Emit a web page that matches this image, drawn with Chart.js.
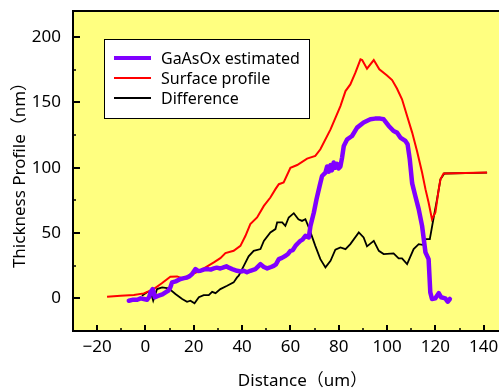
<!DOCTYPE html>
<html><head><meta charset="utf-8">
<script src="https://cdn.jsdelivr.net/npm/chart.js@4/dist/chart.umd.min.js"></script>
<style>
html,body{margin:0;padding:0;background:#fff;overflow:hidden;}
#wrap{position:relative;width:535px;height:390px;}
</style></head><body>
<div id="wrap"><canvas id="c" width="535" height="390"></canvas></div>
<script>
// ---- data ----
const xTicks = [-20, 0, 20, 40, 60, 80, 100, 120, 140];
const xMinorTicks = [-30, -10, 10, 30, 50, 70, 90, 110, 130, 150];
const yTicks = [0, 50, 100, 150, 200];
const yMinorTicks = [-25, 25, 75, 125, 175];

const seriesLabels = ['GaAsOx estimated', 'Surface profile', 'Difference'];

const estDistance = [-6.9,-5,-3.4,-2,-0.7,0.7,1.5,2.1,3,3.9,4.7,5.5,7,8.3,9.5,10.3,11,12.5,14.5,16,17.2,18.3,19.3,20.7,21.7,22.8,24,25.5,27,28.3,29.5,31,32,33.5,34.5,35.9,37.9,39.5,40.7,42,43.4,45.5,47.6,49,50.4,52,53.1,54,55.2,56.5,58,59,60,61,62.1,63,64.1,65,66.2,67.6,68.3,69.7,70.8,72.1,73.1,74.5,75.2,75.9,76.6,77.2,77.9,78.6,79.3,80,80.7,81.4,82.1,83.5,85.5,87.6,90.3,93.1,95,97.2,98.6,100.7,102.7,104.1,105.5,107.6,108.5,109.4,110.4,111.7,113.1,114.5,115.9,117.2,117.9,118.6,120,121.4,122.4,124.1,125.1,126];
const estThickness = [-1.8,-1,-1.1,0,-0.5,-1.1,1,4.6,7.1,0.8,1.5,2,3,4.6,6,8.4,12.2,13,14.8,15.5,16,17,18.6,22.4,21,21.1,22,22.4,22,22.9,23.5,22.9,23.5,24.5,23.5,22.4,21.1,20.5,21.1,20,21.1,22.4,26.2,24,22.9,24,24.9,26,30,31,32.6,34,36.4,37,40.2,42,44,45,47.9,46.6,55.5,65.7,75.9,86.1,93.7,96.3,101,97,102,98,104,100,103,99.5,101,108,116.7,121.8,124.3,130.7,134.6,137.1,137.6,137.6,137.1,132,128.1,126.9,123.1,120.5,118,106.5,88,78.4,68.3,55.5,35.2,30,4.6,-0.5,0,4,0.8,0,-2.6,-0.5];

const surfDistance = [-15.9,-10.3,-4.8,-0.7,3.4,6.9,10.3,13.1,15.2,18,22.8,28.3,31,33.1,36.5,39.3,41.4,43.4,46.2,49,51.7,53.8,55.2,57.2,60,62.8,66.9,70.3,72.4,76.6,80.7,82.8,84.8,86.9,89,89.7,91.7,94.5,96.8,100,102.1,104.1,106.2,108.3,110.4,112.4,114.5,115.9,117.2,118.6,120,121.4,122.1,123.4,141.4];
const surfThickness = [1.2,2,2.5,3.8,7.1,11.7,16.5,16.8,15.3,17.3,21.4,27.5,30.8,34.6,36.4,40.2,47.9,56.8,61.9,70.8,77.2,83.6,87.4,88.7,99.9,102.1,107,109,114.1,129.4,147.2,158.7,163.8,172.8,183,182.4,175.8,182.4,175.3,170.7,167.1,160.6,152.4,139.6,126.9,112.8,96.3,83.6,73.4,60.6,65.7,83.6,91.2,95.6,96.3];

const diffDistance = [-1.5,0.5,2.1,3.2,4.8,6.9,9.6,12.4,15.2,17.2,18.6,20.3,22.1,24.1,26.2,27.6,29,31,33.8,36.5,37.9,38.6,40.7,42.7,44.8,47.6,49,51.7,53.8,54.5,56.6,57.9,59.3,61.4,63.3,64.8,66.2,67.6,70.3,72.4,74.5,76.6,78.6,80.7,82.8,84.8,88.3,90.3,91.7,94.5,96.6,98.6,102.7,104.8,106.2,108.3,111,113.1,115.2,115.9,117.7,119.3,120.7,122.1,123.7,141.4];
const diffThickness = [2,4.5,5.5,-1.8,7.1,8.4,7.6,3.3,-0.5,-2.6,-1.8,-3.8,0.8,2.5,2.5,5,4,7.1,9.6,12.2,16,17.3,24.9,32.2,36.4,37.7,44,50.5,53,58.1,58.1,55.5,61.9,65.2,60.6,59.3,60.6,54.3,40.2,30,23.7,28.7,37.2,39,37.7,41.5,50.5,46.6,39.8,44,36.4,33.9,34.4,30.6,30.6,26.2,37.7,41.5,40.8,45.3,45.3,61.9,75.9,91.2,95.6,96.3];

// ---- style ----
const PLOT_BG = 'rgb(255,255,128)';
const TICK_FONT = '"Noto Sans", "Noto Sans CJK JP", sans-serif';
const TITLE_FONT = '"Noto Sans", "Noto Sans CJK JP", sans-serif';

const toXY = (xs, ys) => xs.map((x, i) => ({x, y: ys[i]}));
const fmt = v => (v < 0 ? '\u2212' + Math.abs(v) : String(v));

const framePlugin = {
  id: 'frame',
  beforeDraw(chart) {
    const {ctx, chartArea: a} = chart;
    ctx.save();
    ctx.fillStyle = PLOT_BG;
    ctx.fillRect(a.left, a.top, a.right - a.left, a.bottom - a.top);
    ctx.restore();
  },
  afterDatasetsDraw(chart) {
    const {ctx, chartArea: a, scales} = chart;
    const xs = scales.x, ys = scales.y;
    ctx.save();
    ctx.strokeStyle = '#000';
    ctx.lineWidth = 2;
    ctx.strokeRect(a.left, a.top, a.right - a.left, a.bottom - a.top);
    ctx.beginPath();
    xTicks.forEach(v => { const p = Math.round(xs.getPixelForValue(v)); ctx.moveTo(p, a.bottom); ctx.lineTo(p, a.bottom - 6); });
    yTicks.forEach(v => { const p = Math.round(ys.getPixelForValue(v)); ctx.moveTo(a.left, p); ctx.lineTo(a.left + 7, p); });
    ctx.stroke();
    ctx.lineWidth = 1.5;
    ctx.beginPath();
    xMinorTicks.forEach(v => { const p = Math.round(xs.getPixelForValue(v)); ctx.moveTo(p, a.bottom); ctx.lineTo(p, a.bottom - 3); });
    yMinorTicks.forEach(v => { const p = Math.round(ys.getPixelForValue(v)); ctx.moveTo(a.left, p); ctx.lineTo(a.left + 3, p); });
    ctx.stroke();

    // legend box
    const L = a.left + 31, T = a.top + 28, W = 205, H = 79;
    ctx.fillStyle = '#fff';
    ctx.fillRect(L, T, W, H);
    ctx.lineWidth = 1;
    ctx.strokeRect(L + 0.5, T + 0.5, W, H);
    ctx.font = '16px ' + TITLE_FONT;
    ctx.textBaseline = 'middle';
    ctx.textAlign = 'left';
    chart.data.datasets.forEach((ds, i) => {
      const y = T + 19 + i * 20;
      ctx.strokeStyle = ds.borderColor;
      ctx.lineWidth = ds.borderWidth > 3 ? 4 : 2;
      ctx.beginPath();
      ctx.moveTo(L + 10, y); ctx.lineTo(L + 47, y);
      ctx.stroke();
      ctx.fillStyle = '#000';
      ctx.fillText(ds.label, L + 57, y + 1);
    });
    ctx.restore();
  }
};

new Chart(document.getElementById('c'), {
  type: 'scatter',
  data: {
    datasets: [
      {label: seriesLabels[0], data: toXY(estDistance, estThickness), borderColor: '#8000FF', borderWidth: 4.5, showLine: true, pointRadius: 0, tension: 0, borderJoinStyle: 'round', borderCapStyle: 'round'},
      {label: seriesLabels[1], data: toXY(surfDistance, surfThickness), borderColor: '#FF0000', borderWidth: 2, showLine: true, pointRadius: 0, tension: 0},
      {label: seriesLabels[2], data: toXY(diffDistance, diffThickness), borderColor: '#000000', borderWidth: 1.8, showLine: true, pointRadius: 0, tension: 0}
    ]
  },
  options: {
    responsive: false,
    animation: false,
    layout: {padding: {top: 11, right: 3, left: 0, bottom: 0}},
    plugins: {legend: {display: false}, tooltip: {enabled: false}},
    scales: {
      x: {
        type: 'linear', min: -30, max: 160,
        grid: {display: false, drawTicks: false}, border: {display: false},
        afterBuildTicks: s => { s.ticks = xTicks.map(v => ({value: v})); },
        afterFit: s => { s.height = 59; s.paddingLeft = 0; s.paddingRight = 0; },
        ticks: {padding: 6, color: '#000', font: {family: TICK_FONT, size: 17}, maxRotation: 0, autoSkip: false, callback: v => fmt(v)},
        title: {display: true, text: 'Distance（um）', color: '#000', font: {family: TITLE_FONT, size: 17}, padding: {top: 0, bottom: -1}}
      },
      y: {
        type: 'linear', min: -25, max: 220,
        grid: {display: false, drawTicks: false}, border: {display: false},
        afterBuildTicks: s => { s.ticks = yTicks.map(v => ({value: v})); },
        afterFit: s => { s.width = 73; s.paddingTop = 0; s.paddingBottom = 0; },
        ticks: {padding: 12, color: '#000', font: {family: TICK_FONT, size: 17}, autoSkip: false, callback: v => fmt(v)},
        title: {display: true, text: 'Thickness Profile（nm）', color: '#000', font: {family: TITLE_FONT, size: 17}, padding: {top: 10, bottom: 0}}
      }
    }
  },
  plugins: [framePlugin]
});
</script>
</body></html>
